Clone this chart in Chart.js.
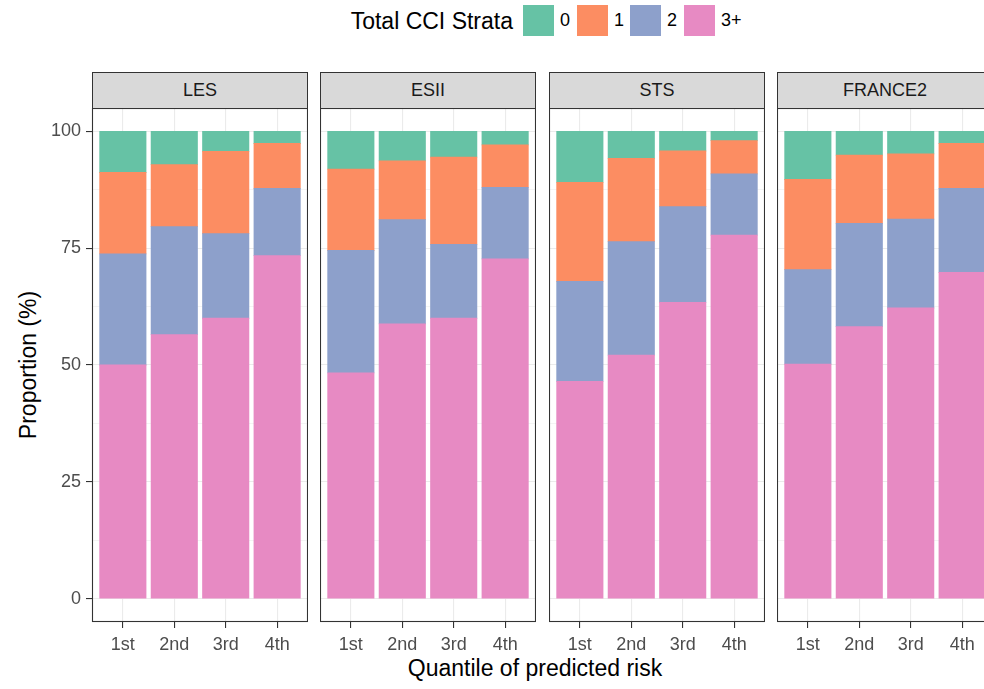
<!DOCTYPE html>
<html>
<head>
<meta charset="utf-8">
<title>Total CCI strata by quantile of predicted risk</title>
<script src="https://cdn.jsdelivr.net/npm/chart.js@4.4.1/dist/chart.umd.min.js"></script>
<style>
  html, body { margin: 0; padding: 0; background: #fff; }
  body {
    width: 984px; height: 689px; position: relative; overflow: hidden;
    font-family: "Liberation Sans", Arial, sans-serif;
  }
  .strip {
    position: absolute; top: 72px; height: 37px; width: 216px; box-sizing: border-box;
    background: #d9d9d9; border: 1px solid #333; color: #1a1a1a;
    font-size: 18px; display: flex; align-items: center; justify-content: center;
  }
  canvas.panel { position: absolute; top: 108px; }
  .title { position: absolute; font-size: 23px; line-height: 1; color: #000; white-space: nowrap; }
  .key { position: absolute; top: 5px; width: 31px; height: 31px; }
  .key-label { position: absolute; top: 11px; font-size: 18px; line-height: 1; color: #000; }
</style>
</head>
<body>
<div id="legend"></div>
<div class="title" id="x-title" style="left:535px; top:657px; transform:translateX(-50%);">Quantile of predicted risk</div>
<div class="title" id="y-title" style="left:28px; top:365px; transform:translate(-50%,-50%) rotate(-90deg);">Proportion (%)</div>
<script>
const quantiles = ['1st', '2nd', '3rd', '4th'];
const facets = ['LES', 'ESII', 'STS', 'FRANCE2'];
const strata = ['0', '1', '2', '3+'];
const strataColors = ['#66C2A5', '#FC8D62', '#8DA0CB', '#E78AC3'];
const yTicks = [0, 25, 50, 75, 100];
const yMinor = [12.5, 37.5, 62.5, 87.5];

// proportion (%) of patients in each CCI stratum, per quantile
const les0 = [8.8, 7.1, 4.3, 2.6];
const les1 = [17.4, 13.3, 17.6, 9.6];
const les2 = [23.8, 23.1, 18.1, 14.4];
const les3 = [50.0, 56.5, 60.0, 73.4];

const esii0 = [8.1, 6.3, 5.5, 2.9];
const esii1 = [17.4, 12.6, 18.7, 9.1];
const esii2 = [26.2, 22.3, 15.8, 15.3];
const esii3 = [48.3, 58.8, 60.0, 72.7];

const sts0 = [10.9, 5.8, 4.2, 2.0];
const sts1 = [21.2, 17.8, 11.9, 7.1];
const sts2 = [21.4, 24.3, 20.5, 13.1];
const sts3 = [46.5, 52.1, 63.4, 77.8];

const fr0 = [10.3, 5.1, 4.8, 2.6];
const fr1 = [19.3, 14.6, 14.0, 9.6];
const fr2 = [20.2, 22.1, 19.0, 18.0];
const fr3 = [50.2, 58.2, 62.2, 69.8];

const facetSeries = [
    [les0, les1, les2, les3],
    [esii0, esii1, esii2, esii3],
    [sts0, sts1, sts2, sts3],
    [fr0, fr1, fr2, fr3]
];

const panelLefts = [92, 320, 549, 777];
const panelWidth = 216;
const panelHeight = 514;
const yAxisWidth = 92;
const xAxisHeight = 40;
const smallFont = { family: '"Liberation Sans", Arial, sans-serif', size: 18 };

// legend: title plus one key per stratum
const legend = document.getElementById('legend');
const legendTitle = document.createElement('div');
legendTitle.className = 'title';
legendTitle.style.right = (984 - 513) + 'px';
legendTitle.style.top = '10px';
legendTitle.textContent = 'Total CCI Strata';
legend.appendChild(legendTitle);
const keyLefts = [523, 577, 630, 684];
strata.forEach((s, i) => {
    const key = document.createElement('div');
    key.className = 'key';
    key.style.left = keyLefts[i] + 'px';
    key.style.background = strataColors[i];
    legend.appendChild(key);
    const lab = document.createElement('div');
    lab.className = 'key-label';
    lab.style.left = (keyLefts[i] + 37) + 'px';
    lab.textContent = s;
    legend.appendChild(lab);
});

// box around each facet panel
const panelBorder = {
    id: 'panelBorder',
    afterDraw(chart) {
        const { ctx, chartArea: a } = chart;
        ctx.save();
        ctx.strokeStyle = '#333333';
        ctx.lineWidth = 1.1;
        ctx.strokeRect(a.left + 0.5, a.top + 0.5, a.width - 1, a.height - 1);
        ctx.restore();
    }
};

function isMajor(ctx) {
    return ctx.tick && yTicks.includes(ctx.tick.value);
}

// keep tick labels from pushing the plot area inwards
function noPadding(s) {
    s.paddingTop = 0;
    s.paddingBottom = 0;
    s.paddingLeft = 0;
    s.paddingRight = 0;
}

function buildPanel(idx) {
    const showY = idx === 0;
    const strip = document.createElement('div');
    strip.className = 'strip';
    strip.style.left = panelLefts[idx] + 'px';
    strip.textContent = facets[idx];
    document.body.appendChild(strip);

    const canvas = document.createElement('canvas');
    canvas.className = 'panel';
    const left = showY ? panelLefts[idx] - yAxisWidth : panelLefts[idx];
    canvas.width = panelWidth + (showY ? yAxisWidth : 0);
    canvas.height = panelHeight + xAxisHeight;
    canvas.style.left = left + 'px';
    document.body.appendChild(canvas);

    const series = facetSeries[idx];
    // 3+ goes first so it sits at the bottom of the stack
    const datasets = [3, 2, 1, 0].map(k => ({
        label: strata[k],
        data: series[k].map((v, i) => ({ x: i + 1, y: v })),
        backgroundColor: strataColors[k],
        borderWidth: 0,
        inflateAmount: 0.4,
        barPercentage: 0.9,
        categoryPercentage: 1
    }));

    return new Chart(canvas, {
        type: 'bar',
        data: { datasets },
        options: {
            responsive: false,
            animation: false,
            layout: { padding: 0 },
            plugins: { legend: { display: false }, tooltip: { enabled: false } },
            scales: {
                x: {
                    type: 'linear',
                    stacked: true,
                    min: 0.4,
                    max: 4.6,
                    offset: false,
                    afterBuildTicks: s => { s.ticks = quantiles.map((q, i) => ({ value: i + 1 })); },
                    afterFit: s => { s.height = xAxisHeight; noPadding(s); },
                    grid: { offset: false, color: '#ebebeb', lineWidth: 1.1, tickColor: '#333333', tickLength: 6, tickWidth: 1.1 },
                    border: { display: false },
                    ticks: {
                        callback: (v, i) => quantiles[i],
                        color: '#4d4d4d',
                        font: smallFont,
                        padding: 6,
                        maxRotation: 0,
                        autoSkip: false
                    }
                },
                y: {
                    stacked: true,
                    min: -5,
                    max: 105,
                    afterBuildTicks: s => {
                        s.ticks = yTicks.concat(yMinor).sort((a, b) => a - b).map(v => ({ value: v }));
                    },
                    afterFit: s => { s.width = showY ? yAxisWidth : 0; noPadding(s); },
                    grid: {
                        color: '#ebebeb',
                        lineWidth: c => isMajor(c) ? 1.1 : 0.55,
                        drawTicks: showY,
                        tickLength: 6,
                        tickWidth: 1.1,
                        tickColor: c => isMajor(c) ? '#333333' : 'rgba(0,0,0,0)'
                    },
                    border: { display: false },
                    ticks: {
                        display: showY,
                        callback: v => yTicks.includes(v) ? String(v) : '',
                        color: '#4d4d4d',
                        font: smallFont,
                        padding: 5,
                        autoSkip: false
                    }
                }
            }
        },
        plugins: [panelBorder]
    });
}

facets.forEach((f, i) => buildPanel(i));
</script>
</body>
</html>
